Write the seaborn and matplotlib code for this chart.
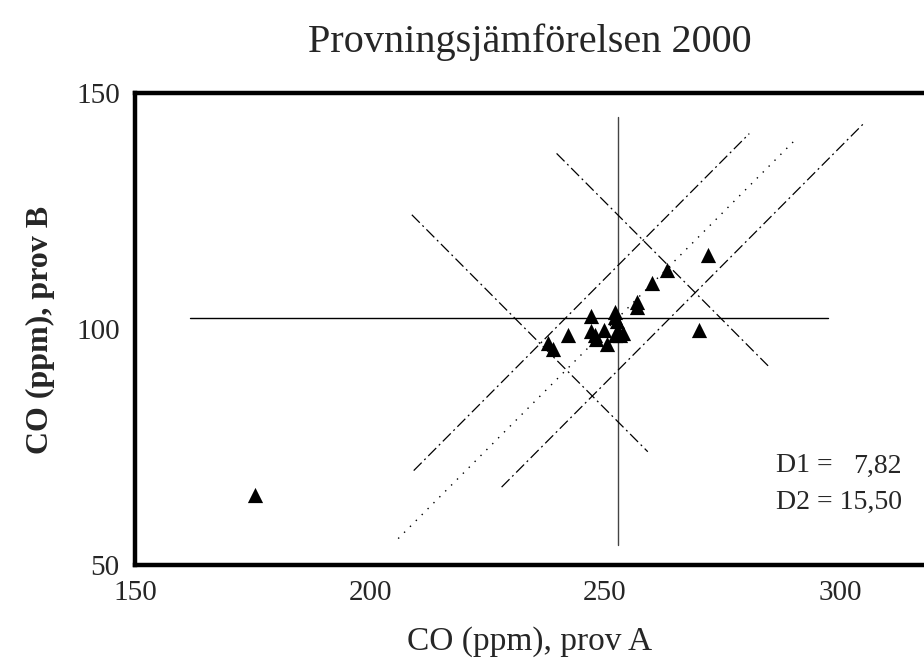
import numpy as np
import pandas as pd
import matplotlib
matplotlib.use("Agg")
import matplotlib.pyplot as plt
import seaborn as sns

# ---- data ----
prov_a = [271.9, 263.1, 260.0, 256.9, 256.9, 252.1, 252.1, 252.5, 247.0, 242.1,
          237.9, 239.0, 247.0, 247.9, 248.1, 249.8, 250.5, 252.8, 253.9, 253.2,
          252.1, 270.0, 175.5]
prov_b = [115.7, 112.6, 109.8, 105.8, 104.7, 103.7, 102.6, 101.6, 102.8, 98.7,
          97.0, 95.7, 99.6, 98.7, 97.8, 99.8, 96.8, 99.6, 99.2, 98.7,
          98.7, 99.8, 64.8]

median_a = 252.7
median_b = 102.3
d1_label = "7,82"
d2_label = "15,50"

# reference line end points (data units)
hline_x = [161.7, 297.4]
vline_y = [54.2, 145.0]
center_x = [206.0, 291.0]
center_y = [55.6, 140.6]
upper_par_x = [209.3, 280.7]
upper_par_y = [70.0, 141.4]
lower_par_x = [228.0, 305.0]
lower_par_y = [66.5, 143.5]
perp_left_x = [208.9, 259.1]
perp_left_y = [124.2, 74.0]
perp_right_x = [239.7, 284.7]
perp_right_y = [137.2, 92.2]

x_major = [150, 200, 250, 300]
y_major = [50, 100, 150]

sns.set_style("white")
plt.rcParams["font.family"] = ["Liberation Serif", "DejaVu Serif"]

W, H = 924, 669
fig = plt.figure(figsize=(W / 100, H / 100), dpi=100)
ax = fig.add_axes([135 / W, (H - 565) / H, 940 / W, 472 / H])
ax.set_xlim(150, 350)
ax.set_ylim(50, 150)

df = pd.DataFrame({"A": prov_a, "B": prov_b})

dashdot = (0, (9, 3, 1.5, 3))
dotted = (0, (1, 5))
lc = "black"
ax.plot(hline_x, [median_b, median_b], color=lc, lw=1.0, zorder=2)
ax.plot([median_a, median_a], vline_y, color="#444444", lw=1.0, zorder=2)
ax.plot(center_x, center_y, color=lc, lw=1.0, ls=dotted, zorder=2)
ax.plot(upper_par_x, upper_par_y, color=lc, lw=0.9, ls=dashdot, zorder=2)
ax.plot(lower_par_x, lower_par_y, color=lc, lw=0.9, ls=dashdot, zorder=2)
ax.plot(perp_left_x, perp_left_y, color=lc, lw=0.9, ls=dashdot, zorder=2)
ax.plot(perp_right_x, perp_right_y, color=lc, lw=0.9, ls=dashdot, zorder=2)

sns.scatterplot(data=df, x="A", y="B", marker="^", s=120, color="black",
                edgecolor="black", linewidth=0, ax=ax, legend=False, zorder=5)

for side in ["left", "top", "bottom"]:
    ax.spines[side].set_linewidth(3.2)
    ax.spines[side].set_color("black")
ax.spines["right"].set_visible(False)

ax.set_xticks(x_major)
ax.set_xticks(np.arange(160, 350, 10), minor=True)
ax.set_yticks(y_major)
ax.set_yticks(np.arange(60, 150, 10), minor=True)
ax.tick_params(axis="both", which="major", direction="in", length=8, width=1,
               labelsize=21, color="black")
ax.tick_params(axis="both", which="minor", direction="in", length=5, width=1,
               color="black")
ax.tick_params(axis="x", which="major", pad=11)
ax.tick_params(axis="y", which="major", pad=11)

ax.set_xlabel("CO (ppm), prov A", fontsize=24)
ax.set_ylabel("CO (ppm), prov B", fontsize=23, fontweight="bold")
ax.xaxis.label.set_va("center")
ax.yaxis.label.set_va("center")
ax.xaxis.set_label_coords((530 - 135) / 940, -(642 - 565) / 472)
ax.yaxis.set_label_coords(-(135 - 40) / 940, (565 - 330) / 472)

fig.text(530 / W, 1 - 42 / H, "Provningsjämförelsen 2000", fontsize=29,
         ha="center", va="center")

fs = 20
right_x = 902 / W
d2 = fig.text(right_x, 1 - 502 / H, "D2 = " + d2_label, fontsize=fs,
              ha="right", va="center")
fig.canvas.draw()
bb = d2.get_window_extent(renderer=fig.canvas.get_renderer())
left_x = bb.x0 / W
fig.text(left_x, 1 - 466 / H, "D1 =", fontsize=fs, ha="left", va="center")
fig.text(right_x, 1 - 466 / H, d1_label, fontsize=fs, ha="right", va="center")

fig.savefig("out.png", dpi=100)
